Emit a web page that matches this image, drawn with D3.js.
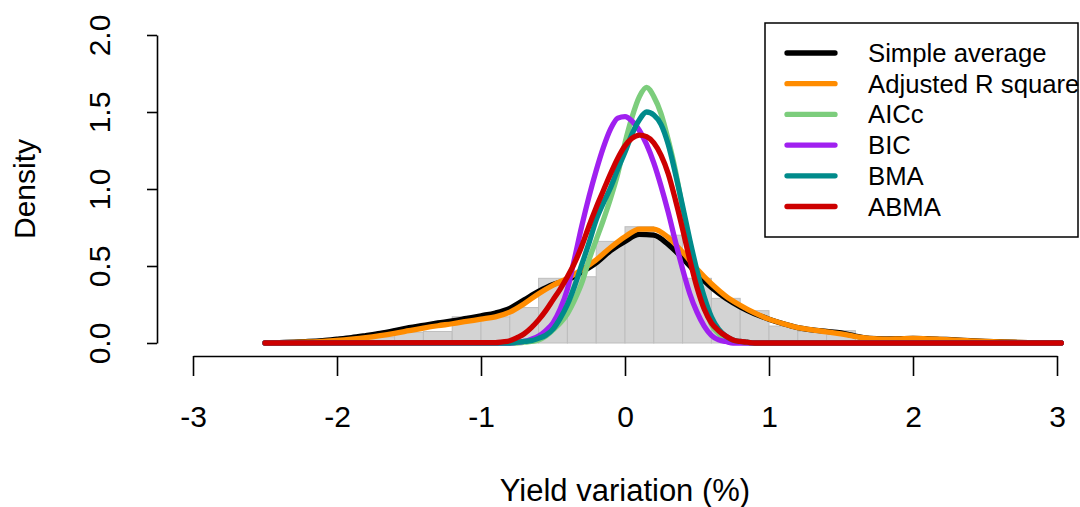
<!DOCTYPE html>
<html>
<head>
<meta charset="utf-8">
<script src="https://cdn.jsdelivr.net/npm/d3@7"></script>
<style>
  body { margin: 0; background: #fff; }
  svg { display: block; }
  text { font-family: "Liberation Sans", Arial, sans-serif; fill: #000; }
</style>
</head>
<body>
<svg id="chart" width="1080" height="507"></svg>
<script>
/* global d3 */
// histogram of yield variation (bins of 0.2)
const binLeft = [-2.2, -2.0, -1.8, -1.6, -1.4, -1.2, -1.0, -0.8, -0.6, -0.4, -0.2, 0, 0.2, 0.4, 0.6, 0.8, 1.0, 1.2, 1.4, 1.6]
const binDensity = [0.01, 0.02, 0.04, 0.07, 0.075, 0.17, 0.17, 0.23, 0.42, 0.43, 0.66, 0.755, 0.70, 0.42, 0.29, 0.21, 0.11, 0.075, 0.08, 0.01]
const binWidth = 0.2

// wide densities (simple average, adjusted R square)
const xWide = [-2.5, -2.4, -2.3, -2.2, -2.1, -2.0, -1.9, -1.8, -1.7, -1.6, -1.5, -1.4, -1.3, -1.2, -1.1, -1.0, -0.9, -0.8, -0.7, -0.6,
  -0.5, -0.4, -0.3, -0.2, -0.1, 0, 0.1, 0.2, 0.3, 0.4, 0.5, 0.6, 0.7, 0.8, 0.9, 1.0, 1.1, 1.2, 1.3, 1.4,
  1.5, 1.6, 1.7, 1.8, 1.9, 2.0, 2.1, 2.2, 2.3, 2.4, 2.5, 2.6, 2.7, 2.8, 2.9, 3.03]
const simpleAvg = [0, 0.003, 0.006, 0.01, 0.016, 0.025, 0.035, 0.048, 0.062, 0.08, 0.1, 0.115, 0.13, 0.143, 0.16, 0.177, 0.195, 0.225, 0.28, 0.335,
  0.38, 0.41, 0.46, 0.52, 0.6, 0.66, 0.705, 0.7, 0.64, 0.55, 0.45, 0.36, 0.29, 0.235, 0.19, 0.155, 0.125, 0.1, 0.085, 0.075,
  0.065, 0.045, 0.03, 0.027, 0.028, 0.03, 0.028, 0.024, 0.02, 0.015, 0.011, 0.008, 0.005, 0.003, 0.002, 0]
const adjR2 = [0, 0.002, 0.004, 0.007, 0.011, 0.017, 0.025, 0.035, 0.048, 0.063, 0.08, 0.097, 0.112, 0.125, 0.14, 0.155, 0.17, 0.2, 0.255, 0.32,
  0.375, 0.42, 0.475, 0.54, 0.62, 0.69, 0.74, 0.74, 0.685, 0.59, 0.48, 0.385, 0.305, 0.245, 0.195, 0.155, 0.125, 0.1, 0.085, 0.072,
  0.06, 0.042, 0.03, 0.025, 0.027, 0.03, 0.027, 0.023, 0.019, 0.014, 0.01, 0.007, 0.005, 0.003, 0.002, 0]

// narrow densities (AICc, BIC, BMA, ABMA)
const xNarrow = [-2.5, -0.9, -0.85, -0.8, -0.75, -0.7, -0.65, -0.6, -0.55, -0.5, -0.45, -0.4, -0.35, -0.3, -0.25, -0.2, -0.15, -0.1, -0.05,
  0, 0.05, 0.1, 0.15, 0.2, 0.25, 0.3, 0.35, 0.4, 0.45, 0.5, 0.55, 0.6, 0.65, 0.7, 0.75, 0.8, 0.85, 0.9, 3.03]
const aicc = [0, 0, 0, 0, 0, 0.005, 0.01, 0.02, 0.045, 0.085, 0.13, 0.19, 0.28, 0.39, 0.54, 0.67, 0.8, 0.94, 1.1,
  1.3, 1.47, 1.6, 1.66, 1.6, 1.49, 1.32, 1.12, 0.87, 0.62, 0.42, 0.25, 0.12, 0.06, 0.03, 0.01, 0.005, 0, 0, 0]
const bic = [0, 0, 0, 0, 0.005, 0.01, 0.025, 0.045, 0.08, 0.13, 0.22, 0.35, 0.55, 0.76, 0.95, 1.12, 1.27, 1.39, 1.46,
  1.47, 1.44, 1.38, 1.29, 1.17, 1.02, 0.85, 0.66, 0.48, 0.32, 0.2, 0.11, 0.05, 0.02, 0.01, 0, 0, 0, 0, 0]
const bma = [0, 0, 0, 0, 0.005, 0.01, 0.015, 0.03, 0.05, 0.09, 0.16, 0.25, 0.37, 0.51, 0.65, 0.8, 0.91, 1.01, 1.13,
  1.24, 1.36, 1.45, 1.5, 1.48, 1.42, 1.29, 1.1, 0.89, 0.67, 0.47, 0.3, 0.17, 0.09, 0.045, 0.02, 0.01, 0.005, 0, 0]
const abma = [0, 0.003, 0.008, 0.015, 0.035, 0.06, 0.1, 0.15, 0.21, 0.28, 0.35, 0.43, 0.52, 0.63, 0.76, 0.88, 0.99, 1.1, 1.2,
  1.28, 1.33, 1.35, 1.34, 1.3, 1.22, 1.1, 0.93, 0.74, 0.54, 0.36, 0.22, 0.13, 0.08, 0.045, 0.02, 0.01, 0.005, 0, 0]

const seriesNames = ['Simple average', 'Adjusted R square', 'AICc', 'BIC', 'BMA', 'ABMA']
const seriesColors = ['#000000', '#ff8c00', '#7ccd7c', '#a020f0', '#008b8b', '#cd0000']
const xTicks = [-3, -2, -1, 0, 1, 2, 3]
const yTicks = [0, 0.5, 1, 1.5, 2]

const series = [
  { x: xWide, y: simpleAvg },
  { x: xWide, y: adjR2 },
  { x: xNarrow, y: aicc },
  { x: xNarrow, y: bic },
  { x: xNarrow, y: bma },
  { x: xNarrow, y: abma }
]

const svg = d3.select('#chart')

/** Scales */
const xScale = d3.scaleLinear().domain([-3, 3]).range([193, 1057])
const yScale = d3.scaleLinear().domain([0, 2]).range([343, 35])

/** histogram */
svg.append('g')
  .selectAll('rect')
  .data(binLeft)
  .enter()
  .append('rect')
  .attr('x', d => xScale(d))
  .attr('y', (d, i) => yScale(binDensity[i]))
  .attr('width', d => xScale(d + binWidth) - xScale(d))
  .attr('height', (d, i) => yScale(0) - yScale(binDensity[i]))
  .attr('fill', '#d3d3d3')
  .attr('stroke', '#bdbdbd')
  .attr('stroke-width', 1)

/** density lines */
const line = d3.line()
  .x(d => xScale(d[0]))
  .y(d => yScale(d[1]))
  .curve(d3.curveMonotoneX)

series.forEach((s, i) => {
  svg.append('path')
    .datum(s.x.map((v, j) => [v, s.y[j]]))
    .attr('d', line)
    .attr('fill', 'none')
    .attr('stroke', seriesColors[i])
    .attr('stroke-width', 5.3)
    .attr('stroke-linecap', 'round')
    .attr('stroke-linejoin', 'round')
})

/** Axes */
const yAxis = d3.axisLeft(yScale)
  .tickValues(yTicks)
  .tickFormat(d3.format('.1f'))
  .tickSize(10)
  .tickSizeOuter(0)
const gy = svg.append('g')
  .attr('transform', 'translate(157,0)')
  .call(yAxis)
gy.selectAll('text')
  .attr('x', null).attr('dy', null)
  .attr('transform', 'translate(-47,0) rotate(-90)')
  .attr('y', 0)
  .attr('text-anchor', 'middle')
  .style('font-size', '30px')

const xAxis = d3.axisBottom(xScale)
  .tickValues(xTicks)
  .tickFormat(d => String(d))
  .tickSize(20)
  .tickSizeOuter(0)
const gx = svg.append('g')
  .attr('transform', 'translate(0,356)')
  .call(xAxis)
gx.selectAll('text')
  .attr('y', 71)
  .attr('dy', null)
  .style('font-size', '30px')

svg.selectAll('.domain, .tick line')
  .attr('stroke', '#000')
  .attr('stroke-width', 1.6)

/** axis titles */
svg.append('text')
  .attr('x', 625)
  .attr('y', 501)
  .attr('text-anchor', 'middle')
  .style('font-size', '31px')
  .text('Yield variation (%)')

svg.append('text')
  .attr('transform', 'translate(35,189) rotate(-90)')
  .attr('text-anchor', 'middle')
  .style('font-size', '30px')
  .text('Density')

/** legend */
const legend = svg.append('g')
legend.append('rect')
  .attr('x', 765)
  .attr('y', 23)
  .attr('width', 313)
  .attr('height', 214)
  .attr('fill', '#fff')
  .attr('stroke', '#000')
  .attr('stroke-width', 1.5)

const rows = legend.selectAll('g.row')
  .data(seriesNames)
  .enter()
  .append('g')
  .attr('class', 'row')
  .attr('transform', (d, i) => `translate(0,${53 + i * 30.7})`)
rows.append('line')
  .attr('x1', 787).attr('x2', 835)
  .attr('stroke', (d, i) => seriesColors[i])
  .attr('stroke-width', 5.3)
  .attr('stroke-linecap', 'round')
rows.append('text')
  .attr('x', 868)
  .attr('dy', '0.35em')
  .style('font-size', '25.7px')
  .text(d => d)
</script>
</body>
</html>
